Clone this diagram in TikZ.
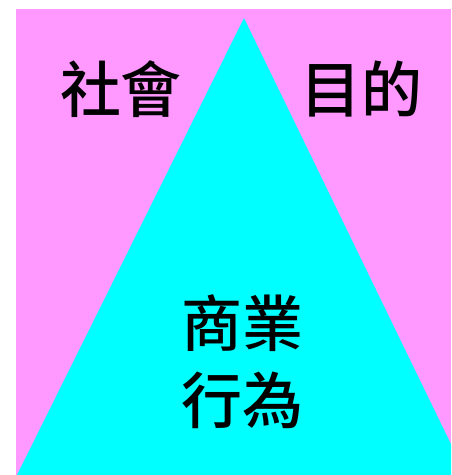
\documentclass[tikz,border=0pt]{standalone}
\usepackage{fontspec}
\newfontfamily\cjk{Noto Sans CJK TC Medium}
\definecolor{pinkbg}{HTML}{FF99FF}
\definecolor{cyantri}{HTML}{00FFFF}
\begin{document}
\begin{tikzpicture}[x=1pt,y=-1pt,
  lbl/.style={font=\cjk\fontsize{61}{77}\selectfont, inner sep=0pt, align=center, text=black}]
\useasboundingbox (0,0) rectangle (451,475);
\fill[pinkbg] (16,9) rectangle (451,475);
\begin{scope}
\clip (0,0) rectangle (451,475);
\fill[cyantri] (244,18) -- (17,475) -- (466,475) -- cycle;
\end{scope}
\node[lbl] (soc) at (121,89) {社會};
\node[lbl] (goal) at (361.5,89) {目的};
\node[lbl] (biz) at (242.5,362) {商業\\行為};
\end{tikzpicture}
\end{document}
